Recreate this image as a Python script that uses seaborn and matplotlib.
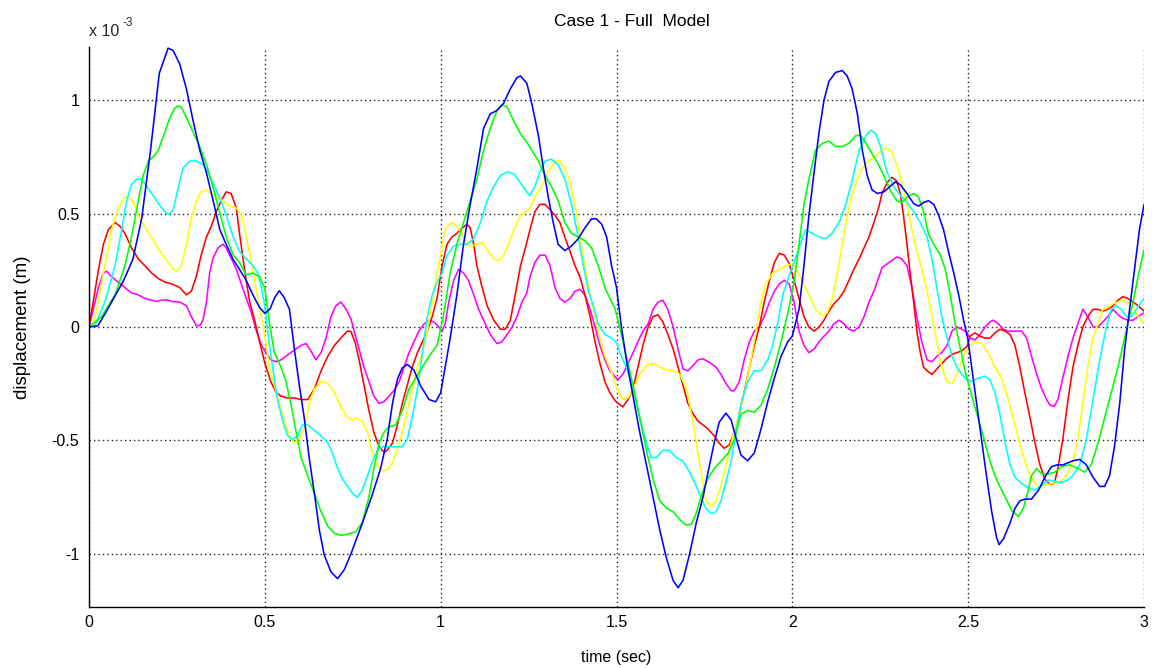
import matplotlib
matplotlib.use("Agg")
import matplotlib.pyplot as plt
from matplotlib.ticker import FixedLocator, FuncFormatter
import numpy as np
import pandas as pd
import seaborn as sns

# Displacement histories of the six degrees of freedom (values in units of 1e-3 m)
SCALE = 1e-3

mass1_t = [0, 0.012, 0.027, 0.041, 0.05, 0.064, 0.083, 0.102, 0.121, 0.14, 0.159, 0.178, 0.192, 0.207, 0.221, 0.235,
           0.258, 0.277, 0.291, 0.305, 0.315, 0.324, 0.334, 0.343, 0.352, 0.367, 0.381, 0.39, 0.4, 0.41, 0.419, 0.433,
           0.447, 0.462, 0.476, 0.49, 0.503, 0.517, 0.532, 0.546, 0.56, 0.574, 0.588, 0.603, 0.617, 0.631, 0.645, 0.66,
           0.674, 0.688, 0.702, 0.716, 0.731, 0.745, 0.754, 0.768, 0.782, 0.796, 0.81, 0.825, 0.839, 0.853, 0.867, 0.882,
           0.896, 0.91, 0.924, 0.938, 0.953, 0.967, 0.981, 0.995, 1.004, 1.013, 1.023, 1.037, 1.051, 1.065, 1.079, 1.094,
           1.108, 1.122, 1.141, 1.16, 1.174, 1.189, 1.203, 1.217, 1.231, 1.245, 1.254, 1.268, 1.282, 1.297, 1.311, 1.325,
           1.339, 1.353, 1.368, 1.382, 1.396, 1.41, 1.425, 1.439, 1.453, 1.467, 1.481, 1.496, 1.504, 1.518, 1.533, 1.547,
           1.561, 1.575, 1.59, 1.604, 1.618, 1.632, 1.646, 1.661, 1.675, 1.689, 1.703, 1.718, 1.732, 1.746, 1.769, 1.783,
           1.797, 1.811, 1.826, 1.835, 1.849, 1.863, 1.878, 1.892, 1.906, 1.92, 1.935, 1.949, 1.963, 1.977, 1.991, 2.005,
           2.019, 2.033, 2.047, 2.062, 2.076, 2.09, 2.104, 2.118, 2.133, 2.147, 2.161, 2.175, 2.19, 2.204, 2.218, 2.232,
           2.246, 2.255, 2.269, 2.283, 2.297, 2.311, 2.326, 2.34, 2.354, 2.368, 2.383, 2.397, 2.411, 2.425, 2.44, 2.454,
           2.468, 2.482, 2.497, 2.505, 2.519, 2.534, 2.548, 2.562, 2.571, 2.586, 2.6, 2.614, 2.633, 2.652, 2.666, 2.68,
           2.695, 2.709, 2.723, 2.733, 2.745, 2.755, 2.769, 2.784, 2.798, 2.812, 2.826, 2.84, 2.855, 2.869, 2.883, 2.897,
           2.912, 2.926, 2.94, 2.954, 2.969, 2.983, 3.0]
mass1_d = [0, 0.078, 0.174, 0.238, 0.246, 0.222, 0.198, 0.174, 0.15, 0.142, 0.126, 0.118, 0.113, 0.118, 0.12, 0.113,
           0.11, 0.094, 0.046, 0.006, 0.006, 0.03, 0.11, 0.238, 0.301, 0.349, 0.365, 0.349, 0.317, 0.285, 0.254, 0.19,
           0.126, 0.062, -0.018, -0.08, -0.113, -0.145, -0.153, -0.145, -0.129, -0.113, -0.097, -0.081, -0.073, -0.105, -0.145, -0.113,
           -0.049, 0.046, 0.094, 0.11, 0.078, 0.035, -0.018, -0.097, -0.177, -0.241, -0.305, -0.337, -0.329, -0.305, -0.281, -0.241,
           -0.177, -0.113, -0.065, -0.018, 0.014, 0.03, 0.022, 0, -0.018, 0.014, 0.11, 0.206, 0.254, 0.238, 0.206, 0.142,
           0.078, 0.03, -0.033, -0.073, -0.065, -0.033, 0, 0.046, 0.11, 0.15, 0.222, 0.285, 0.317, 0.317, 0.27, 0.174,
           0.126, 0.11, 0.126, 0.158, 0.166, 0.142, 0.078, 0, -0.081, -0.145, -0.193, -0.22, -0.233, -0.209, -0.161, -0.113,
           -0.065, -0.018, 0.014, 0.078, 0.11, 0.118, 0.078, 0, -0.097, -0.185, -0.193, -0.169, -0.145, -0.14, -0.161, -0.177,
           -0.209, -0.249, -0.281, -0.281, -0.241, -0.145, -0.065, -0.018, 0, 0.046, 0.11, 0.158, 0.19, 0.206, 0.19, 0.11,
           -0.018, -0.081, -0.113, -0.097, -0.065, -0.041, -0.018, 0.014, 0.03, 0.014, -0.01, -0.018, 0, 0.046, 0.11, 0.158,
           0.22, 0.262, 0.278, 0.293, 0.309, 0.301, 0.27, 0.174, 0.046, -0.065, -0.145, -0.153, -0.129, -0.113, -0.081, -0.018,
           0, -0.01, -0.025, -0.049, -0.057, -0.033, 0, 0.022, 0.03, 0.014, -0.01, -0.018, -0.018, -0.018, -0.049, -0.129,
           -0.209, -0.273, -0.32, -0.345, -0.35, -0.32, -0.225, -0.129, -0.049, 0.014, 0.078, 0.046, 0, 0, 0.022, 0.046,
           0.078, 0.054, 0.038, 0.03, 0.03, 0.046, 0.062]

mass2_t = [0, 0.012, 0.027, 0.041, 0.055, 0.074, 0.088, 0.102, 0.121, 0.14, 0.159, 0.178, 0.197, 0.216, 0.235, 0.25,
           0.258, 0.277, 0.291, 0.305, 0.319, 0.334, 0.348, 0.362, 0.376, 0.39, 0.404, 0.419, 0.428, 0.438, 0.447, 0.457,
           0.471, 0.485, 0.5, 0.517, 0.532, 0.546, 0.565, 0.584, 0.603, 0.622, 0.641, 0.66, 0.679, 0.698, 0.716, 0.735,
           0.745, 0.757, 0.768, 0.782, 0.796, 0.81, 0.825, 0.839, 0.848, 0.863, 0.877, 0.891, 0.905, 0.919, 0.934, 0.948,
           0.962, 0.976, 0.99, 1.004, 1.018, 1.032, 1.046, 1.061, 1.075, 1.084, 1.094, 1.103, 1.118, 1.132, 1.151, 1.17,
           1.184, 1.198, 1.212, 1.227, 1.241, 1.254, 1.268, 1.282, 1.297, 1.311, 1.325, 1.339, 1.353, 1.368, 1.382, 1.396,
           1.41, 1.425, 1.439, 1.453, 1.467, 1.481, 1.496, 1.504, 1.518, 1.533, 1.547, 1.561, 1.575, 1.59, 1.604, 1.618,
           1.632, 1.646, 1.661, 1.675, 1.689, 1.703, 1.718, 1.732, 1.746, 1.759, 1.778, 1.792, 1.806, 1.821, 1.835, 1.849,
           1.863, 1.878, 1.892, 1.906, 1.92, 1.935, 1.949, 1.963, 1.977, 1.991, 2.005, 2.019, 2.033, 2.047, 2.062, 2.076,
           2.09, 2.104, 2.118, 2.133, 2.147, 2.161, 2.175, 2.19, 2.204, 2.218, 2.232, 2.246, 2.255, 2.269, 2.283, 2.297,
           2.307, 2.316, 2.326, 2.335, 2.345, 2.354, 2.364, 2.373, 2.383, 2.397, 2.411, 2.425, 2.44, 2.454, 2.468, 2.482,
           2.497, 2.505, 2.519, 2.534, 2.548, 2.562, 2.576, 2.59, 2.605, 2.619, 2.633, 2.647, 2.661, 2.676, 2.69, 2.704,
           2.718, 2.733, 2.745, 2.755, 2.769, 2.784, 2.798, 2.812, 2.826, 2.84, 2.855, 2.869, 2.883, 2.897, 2.912, 2.926,
           2.94, 2.954, 2.969, 2.983, 3.0]
mass2_d = [0, 0.11, 0.254, 0.365, 0.429, 0.461, 0.445, 0.413, 0.349, 0.301, 0.27, 0.238, 0.214, 0.198, 0.19, 0.18,
           0.174, 0.142, 0.158, 0.222, 0.317, 0.397, 0.445, 0.509, 0.557, 0.596, 0.589, 0.525, 0.413, 0.301, 0.206, 0.11,
           0.03, -0.065, -0.16, -0.241, -0.289, -0.305, -0.313, -0.313, -0.32, -0.32, -0.273, -0.193, -0.129, -0.081, -0.049, -0.018,
           -0.02, -0.07, -0.145, -0.257, -0.368, -0.464, -0.528, -0.552, -0.544, -0.512, -0.432, -0.337, -0.257, -0.177, -0.113, -0.065,
           -0.018, 0.046, 0.13, 0.27, 0.365, 0.397, 0.413, 0.437, 0.453, 0.437, 0.365, 0.27, 0.174, 0.094, 0.03, -0.01,
           -0.01, 0.03, 0.142, 0.27, 0.35, 0.429, 0.509, 0.541, 0.541, 0.517, 0.493, 0.461, 0.397, 0.333, 0.27, 0.222,
           0.142, 0.046, -0.065, -0.161, -0.241, -0.289, -0.325, -0.337, -0.352, -0.32, -0.273, -0.177, -0.081, 0, 0.046, 0.054,
           0.022, -0.033, -0.097, -0.177, -0.257, -0.337, -0.384, -0.416, -0.432, -0.448, -0.48, -0.512, -0.535, -0.52, -0.464, -0.384,
           -0.289, -0.177, -0.081, 0, 0.11, 0.206, 0.285, 0.325, 0.317, 0.28, 0.206, 0.126, 0.046, 0, -0.018, 0,
           0.03, 0.07, 0.102, 0.126, 0.158, 0.206, 0.254, 0.301, 0.349, 0.397, 0.461, 0.53, 0.589, 0.636, 0.66, 0.644,
           0.589, 0.493, 0.365, 0.238, 0.11, -0.018, -0.113, -0.177, -0.193, -0.209, -0.185, -0.161, -0.137, -0.121, -0.113, -0.105,
           -0.085, -0.041, -0.026, -0.041, -0.049, -0.049, -0.026, -0.01, -0.018, -0.033, -0.081, -0.177, -0.289, -0.4, -0.512, -0.608,
           -0.671, -0.695, -0.69, -0.624, -0.496, -0.32, -0.177, -0.081, 0, 0.046, 0.078, 0.078, 0.07, 0.078, 0.094, 0.118,
           0.134, 0.126, 0.11, 0.094, 0.07]

mass3_t = [0, 0.012, 0.026, 0.045, 0.064, 0.083, 0.102, 0.112, 0.126, 0.145, 0.164, 0.183, 0.202, 0.221, 0.24, 0.25,
           0.262, 0.277, 0.291, 0.305, 0.319, 0.334, 0.348, 0.362, 0.381, 0.4, 0.419, 0.433, 0.447, 0.462, 0.476, 0.49,
           0.5, 0.513, 0.527, 0.541, 0.555, 0.57, 0.584, 0.598, 0.612, 0.626, 0.641, 0.66, 0.679, 0.698, 0.716, 0.735,
           0.75, 0.758, 0.777, 0.792, 0.806, 0.82, 0.834, 0.848, 0.863, 0.877, 0.891, 0.905, 0.919, 0.934, 0.948, 0.962,
           0.976, 0.99, 1.0, 1.01, 1.018, 1.032, 1.046, 1.061, 1.075, 1.089, 1.103, 1.118, 1.132, 1.151, 1.165, 1.179,
           1.193, 1.208, 1.227, 1.245, 1.254, 1.268, 1.287, 1.306, 1.325, 1.339, 1.353, 1.368, 1.382, 1.396, 1.41, 1.425,
           1.439, 1.453, 1.467, 1.486, 1.504, 1.518, 1.533, 1.547, 1.566, 1.585, 1.604, 1.623, 1.642, 1.661, 1.68, 1.699,
           1.717, 1.732, 1.746, 1.754, 1.769, 1.783, 1.797, 1.811, 1.826, 1.84, 1.854, 1.868, 1.882, 1.897, 1.911, 1.925,
           1.944, 1.963, 1.982, 2.0, 2.009, 2.028, 2.047, 2.066, 2.085, 2.099, 2.114, 2.128, 2.142, 2.156, 2.171, 2.185,
           2.199, 2.218, 2.237, 2.255, 2.269, 2.283, 2.297, 2.311, 2.326, 2.34, 2.354, 2.369, 2.383, 2.397, 2.411, 2.425,
           2.44, 2.454, 2.468, 2.482, 2.497, 2.505, 2.519, 2.538, 2.557, 2.576, 2.595, 2.614, 2.633, 2.652, 2.671, 2.69,
           2.704, 2.723, 2.742, 2.76, 2.779, 2.798, 2.812, 2.826, 2.84, 2.855, 2.869, 2.883, 2.897, 2.912, 2.926, 2.94,
           2.954, 2.969, 2.983, 3.0]
mass3_d = [0, 0.01, 0.11, 0.27, 0.429, 0.525, 0.573, 0.575, 0.549, 0.477, 0.429, 0.381, 0.333, 0.293, 0.254, 0.245,
           0.27, 0.365, 0.477, 0.557, 0.596, 0.604, 0.589, 0.573, 0.557, 0.533, 0.525, 0.493, 0.397, 0.285, 0.158, 0.046,
           -0.04, -0.177, -0.257, -0.337, -0.416, -0.488, -0.512, -0.496, -0.448, -0.337, -0.273, -0.241, -0.249, -0.289, -0.352, -0.4,
           -0.41, -0.4, -0.416, -0.464, -0.56, -0.61, -0.635, -0.63, -0.6, -0.54, -0.464, -0.368, -0.273, -0.177, -0.113, -0.018,
           0.11, 0.24, 0.32, 0.41, 0.445, 0.461, 0.445, 0.413, 0.365, 0.357, 0.365, 0.373, 0.341, 0.301, 0.293, 0.317,
           0.365, 0.429, 0.493, 0.51, 0.525, 0.573, 0.62, 0.684, 0.732, 0.732, 0.7, 0.636, 0.541, 0.397, 0.27, 0.142,
           0.046, -0.049, -0.129, -0.2, -0.28, -0.32, -0.313, -0.273, -0.209, -0.17, -0.16, -0.177, -0.19, -0.19, -0.209, -0.273,
           -0.416, -0.56, -0.69, -0.767, -0.791, -0.767, -0.703, -0.608, -0.512, -0.432, -0.352, -0.257, -0.145, -0.018, 0.11, 0.19,
           0.238, 0.254, 0.27, 0.28, 0.26, 0.206, 0.142, 0.078, 0.05, 0.062, 0.126, 0.238, 0.365, 0.493, 0.589, 0.652,
           0.7, 0.732, 0.756, 0.78, 0.788, 0.772, 0.716, 0.636, 0.541, 0.429, 0.333, 0.254, 0.158, 0.046, -0.065, -0.177,
           -0.241, -0.249, -0.209, -0.145, -0.1, -0.081, -0.065, -0.073, -0.113, -0.177, -0.225, -0.32, -0.432, -0.544, -0.64, -0.687,
           -0.711, -0.695, -0.69, -0.687, -0.656, -0.592, -0.496, -0.337, -0.177, -0.049, 0.014, 0.078, 0.086, 0.102, 0.11, 0.118,
           0.11, 0.086, 0.046, 0.014]

mass4_t = [0, 0.017, 0.045, 0.074, 0.093, 0.107, 0.121, 0.135, 0.15, 0.164, 0.178, 0.192, 0.207, 0.221, 0.23, 0.24,
           0.253, 0.267, 0.286, 0.305, 0.324, 0.338, 0.352, 0.371, 0.39, 0.41, 0.428, 0.447, 0.466, 0.48, 0.49, 0.498,
           0.508, 0.522, 0.536, 0.551, 0.565, 0.579, 0.593, 0.607, 0.622, 0.641, 0.66, 0.679, 0.693, 0.707, 0.721, 0.735,
           0.75, 0.763, 0.777, 0.792, 0.806, 0.82, 0.834, 0.853, 0.872, 0.891, 0.905, 0.919, 0.934, 0.948, 0.962, 0.976,
           0.99, 1.004, 1.018, 1.037, 1.056, 1.075, 1.094, 1.113, 1.132, 1.151, 1.17, 1.189, 1.208, 1.227, 1.245, 1.254,
           1.268, 1.282, 1.297, 1.315, 1.334, 1.353, 1.372, 1.391, 1.406, 1.42, 1.434, 1.448, 1.467, 1.486, 1.501, 1.509,
           1.528, 1.547, 1.566, 1.585, 1.599, 1.613, 1.632, 1.651, 1.67, 1.689, 1.708, 1.727, 1.741, 1.754, 1.769, 1.783,
           1.797, 1.811, 1.826, 1.84, 1.854, 1.873, 1.892, 1.911, 1.93, 1.944, 1.958, 1.973, 1.99, 2.005, 2.019, 2.038,
           2.057, 2.076, 2.095, 2.113, 2.133, 2.152, 2.171, 2.19, 2.209, 2.223, 2.237, 2.25, 2.269, 2.288, 2.307, 2.326,
           2.345, 2.364, 2.383, 2.397, 2.411, 2.425, 2.44, 2.454, 2.468, 2.482, 2.497, 2.51, 2.529, 2.548, 2.562, 2.576,
           2.59, 2.605, 2.619, 2.633, 2.652, 2.671, 2.69, 2.709, 2.728, 2.747, 2.76, 2.779, 2.798, 2.817, 2.836, 2.855,
           2.874, 2.893, 2.907, 2.921, 2.935, 2.95, 2.964, 2.978, 2.992, 3.0]
mass4_d = [0, 0.006, 0.11, 0.27, 0.429, 0.557, 0.628, 0.652, 0.652, 0.62, 0.589, 0.557, 0.525, 0.5, 0.5, 0.52,
           0.61, 0.7, 0.732, 0.732, 0.716, 0.684, 0.636, 0.573, 0.493, 0.397, 0.333, 0.301, 0.27, 0.238, 0.174, 0.11,
           -0.018, -0.177, -0.32, -0.416, -0.48, -0.496, -0.48, -0.432, -0.432, -0.456, -0.48, -0.512, -0.56, -0.624, -0.671, -0.703,
           -0.735, -0.751, -0.719, -0.656, -0.592, -0.544, -0.528, -0.528, -0.528, -0.528, -0.496, -0.4, -0.273, -0.113, 0.046, 0.142,
           0.2, 0.238, 0.317, 0.357, 0.365, 0.365, 0.389, 0.461, 0.557, 0.62, 0.668, 0.684, 0.676, 0.636, 0.595, 0.58,
           0.62, 0.684, 0.732, 0.74, 0.716, 0.652, 0.541, 0.397, 0.27, 0.158, 0.094, 0.014, -0.033, -0.049, -0.07, -0.113,
           -0.177, -0.273, -0.4, -0.512, -0.576, -0.576, -0.544, -0.544, -0.576, -0.592, -0.64, -0.703, -0.755, -0.799, -0.823, -0.815,
           -0.767, -0.687, -0.592, -0.464, -0.337, -0.241, -0.193, -0.193, -0.145, -0.081, 0.014, 0.142, 0.222, 0.285, 0.349, 0.429,
           0.413, 0.397, 0.389, 0.413, 0.461, 0.541, 0.652, 0.78, 0.844, 0.868, 0.852, 0.8, 0.684, 0.62, 0.58, 0.549,
           0.509, 0.461, 0.397, 0.301, 0.174, 0.046, -0.049, -0.129, -0.177, -0.209, -0.233, -0.241, -0.225, -0.217, -0.233, -0.289,
           -0.384, -0.512, -0.608, -0.663, -0.69, -0.71, -0.72, -0.7, -0.675, -0.68, -0.687, -0.679, -0.656, -0.608, -0.496, -0.32,
           -0.145, 0, 0.078, 0.094, 0.078, 0.046, 0.046, 0.078, 0.11, 0.126]

mass5_t = [0, 0.036, 0.074, 0.102, 0.121, 0.14, 0.154, 0.169, 0.183, 0.197, 0.216, 0.23, 0.244, 0.252, 0.262, 0.277,
           0.296, 0.315, 0.334, 0.352, 0.371, 0.39, 0.41, 0.428, 0.447, 0.466, 0.485, 0.5, 0.513, 0.527, 0.546, 0.56,
           0.574, 0.589, 0.603, 0.622, 0.641, 0.66, 0.679, 0.698, 0.716, 0.735, 0.758, 0.777, 0.796, 0.81, 0.825, 0.839,
           0.853, 0.872, 0.891, 0.91, 0.929, 0.948, 0.967, 0.99, 1.008, 1.027, 1.046, 1.065, 1.084, 1.103, 1.122, 1.141,
           1.16, 1.174, 1.189, 1.208, 1.227, 1.245, 1.259, 1.278, 1.297, 1.315, 1.334, 1.353, 1.372, 1.391, 1.41, 1.429,
           1.448, 1.467, 1.486, 1.495, 1.509, 1.528, 1.547, 1.566, 1.585, 1.604, 1.623, 1.642, 1.661, 1.68, 1.699, 1.713,
           1.727, 1.741, 1.759, 1.778, 1.797, 1.816, 1.835, 1.854, 1.873, 1.892, 1.911, 1.93, 1.949, 1.968, 1.987, 2.005,
           2.019, 2.033, 2.047, 2.066, 2.085, 2.104, 2.123, 2.142, 2.161, 2.18, 2.194, 2.209, 2.227, 2.242, 2.26, 2.278,
           2.297, 2.311, 2.326, 2.345, 2.359, 2.373, 2.387, 2.402, 2.421, 2.435, 2.449, 2.463, 2.478, 2.492, 2.505, 2.519,
           2.534, 2.548, 2.562, 2.576, 2.59, 2.605, 2.624, 2.643, 2.657, 2.671, 2.68, 2.695, 2.709, 2.728, 2.747, 2.765,
           2.788, 2.812, 2.831, 2.85, 2.869, 2.888, 2.907, 2.926, 2.94, 2.954, 2.969, 2.983, 3.0]
mass5_d = [0, 0.046, 0.142, 0.27, 0.397, 0.557, 0.668, 0.732, 0.751, 0.78, 0.86, 0.923, 0.965, 0.975, 0.971, 0.923,
           0.86, 0.796, 0.716, 0.62, 0.509, 0.397, 0.317, 0.285, 0.23, 0.238, 0.222, 0.17, 0.02, -0.113, -0.177, -0.24,
           -0.337, -0.464, -0.576, -0.656, -0.735, -0.815, -0.879, -0.91, -0.919, -0.914, -0.903, -0.863, -0.751, -0.624, -0.512, -0.464,
           -0.44, -0.432, -0.368, -0.273, -0.225, -0.177, -0.129, -0.08, 0.05, 0.238, 0.365, 0.461, 0.557, 0.652, 0.78, 0.876,
           0.955, 0.979, 0.971, 0.907, 0.852, 0.815, 0.78, 0.732, 0.668, 0.62, 0.557, 0.461, 0.413, 0.397, 0.381, 0.349,
           0.27, 0.174, 0.11, 0.085, 0, -0.129, -0.257, -0.4, -0.544, -0.671, -0.767, -0.799, -0.815, -0.85, -0.875, -0.87,
           -0.82, -0.745, -0.671, -0.624, -0.592, -0.56, -0.496, -0.384, -0.368, -0.376, -0.344, -0.273, -0.177, -0.065, 0.06, 0.2,
           0.365, 0.54, 0.652, 0.78, 0.81, 0.82, 0.796, 0.796, 0.81, 0.844, 0.845, 0.81, 0.764, 0.725, 0.668, 0.604,
           0.557, 0.549, 0.573, 0.589, 0.573, 0.509, 0.413, 0.365, 0.317, 0.254, 0.142, 0.014, -0.097, -0.2, -0.273, -0.352,
           -0.432, -0.512, -0.592, -0.656, -0.703, -0.75, -0.81, -0.835, -0.8, -0.72, -0.656, -0.624, -0.648, -0.648, -0.64, -0.616,
           -0.608, -0.624, -0.64, -0.608, -0.512, -0.4, -0.289, -0.177, -0.081, 0.014, 0.11, 0.222, 0.34]

mass6_t = [0, 0.025, 0.05, 0.075, 0.1, 0.125, 0.15, 0.175, 0.2, 0.225, 0.239, 0.258, 0.277, 0.296, 0.315, 0.334,
           0.353, 0.372, 0.39, 0.409, 0.428, 0.447, 0.466, 0.485, 0.5, 0.515, 0.528, 0.541, 0.555, 0.57, 0.584, 0.598,
           0.612, 0.626, 0.641, 0.655, 0.669, 0.688, 0.707, 0.726, 0.745, 0.758, 0.777, 0.806, 0.829, 0.848, 0.863, 0.877,
           0.891, 0.905, 0.924, 0.943, 0.967, 0.986, 1.0, 1.008, 1.027, 1.046, 1.065, 1.084, 1.103, 1.122, 1.141, 1.16,
           1.179, 1.198, 1.217, 1.227, 1.245, 1.259, 1.278, 1.292, 1.306, 1.32, 1.334, 1.353, 1.372, 1.391, 1.41, 1.429,
           1.443, 1.458, 1.472, 1.486, 1.5, 1.514, 1.528, 1.547, 1.566, 1.585, 1.604, 1.623, 1.642, 1.661, 1.675, 1.689,
           1.708, 1.727, 1.746, 1.759, 1.778, 1.792, 1.811, 1.826, 1.84, 1.854, 1.873, 1.892, 1.911, 1.93, 1.949, 1.968,
           1.987, 2.0, 2.019, 2.033, 2.047, 2.062, 2.076, 2.09, 2.104, 2.123, 2.142, 2.156, 2.17, 2.185, 2.199, 2.213,
           2.227, 2.242, 2.26, 2.278, 2.293, 2.307, 2.326, 2.345, 2.359, 2.373, 2.387, 2.402, 2.416, 2.43, 2.444, 2.459,
           2.473, 2.487, 2.5, 2.51, 2.524, 2.538, 2.552, 2.567, 2.581, 2.588, 2.6, 2.619, 2.633, 2.647, 2.661, 2.68,
           2.7, 2.718, 2.737, 2.753, 2.77, 2.798, 2.817, 2.836, 2.855, 2.874, 2.888, 2.902, 2.916, 2.931, 2.945, 2.959,
           2.973, 2.987, 3.0]
mass6_d = [0, 0.005, 0.07, 0.14, 0.21, 0.3, 0.48, 0.78, 1.12, 1.23, 1.22, 1.16, 1.05, 0.91, 0.78, 0.68,
           0.557, 0.43, 0.365, 0.3, 0.254, 0.206, 0.142, 0.086, 0.06, 0.08, 0.13, 0.16, 0.13, 0.078, -0.097, -0.257,
           -0.4, -0.576, -0.735, -0.895, -1.006, -1.08, -1.11, -1.07, -1.0, -0.945, -0.866, -0.738, -0.625, -0.495, -0.337, -0.23,
           -0.18, -0.165, -0.19, -0.26, -0.32, -0.33, -0.29, -0.22, -0.05, 0.14, 0.365, 0.54, 0.7, 0.876, 0.94, 0.955,
           0.987, 1.05, 1.1, 1.107, 1.075, 0.987, 0.844, 0.7, 0.573, 0.461, 0.365, 0.337, 0.357, 0.389, 0.437, 0.477,
           0.477, 0.453, 0.397, 0.27, 0.174, 0, -0.145, -0.305, -0.464, -0.608, -0.751, -0.895, -1.02, -1.118, -1.15, -1.118,
           -1.0, -0.863, -0.75, -0.65, -0.51, -0.42, -0.38, -0.41, -0.49, -0.565, -0.59, -0.555, -0.45, -0.33, -0.225, -0.129,
           -0.065, -0.04, 0.078, 0.27, 0.49, 0.684, 0.86, 1.0, 1.083, 1.123, 1.131, 1.107, 1.051, 0.94, 0.78, 0.668,
           0.604, 0.589, 0.596, 0.62, 0.64, 0.628, 0.589, 0.544, 0.533, 0.549, 0.557, 0.541, 0.493, 0.429, 0.333, 0.238,
           0.142, 0.03, -0.06, -0.177, -0.337, -0.496, -0.656, -0.815, -0.93, -0.96, -0.935, -0.865, -0.8, -0.767, -0.759, -0.759,
           -0.72, -0.663, -0.616, -0.608, -0.608, -0.59, -0.584, -0.608, -0.663, -0.703, -0.703, -0.656, -0.528, -0.337, -0.097, 0.078,
           0.254, 0.429, 0.54]

series_names = ["mass 1", "mass 2", "mass 3", "mass 4", "mass 5", "mass 6"]
series_colors = ["#ff00ff", "#ff0000", "#ffff00", "#00ffff", "#00ff00", "#0000ff"]
series_t = [mass1_t, mass2_t, mass3_t, mass4_t, mass5_t, mass6_t]
series_d = [mass1_d, mass2_d, mass3_d, mass4_d, mass5_d, mass6_d]

x_ticks = [0, 0.5, 1, 1.5, 2, 2.5, 3]
y_ticks = [-1, -0.5, 0, 0.5, 1]

frames = []
for name, t, d in zip(series_names, series_t, series_d):
    frames.append(pd.DataFrame({"time": t, "disp": np.asarray(d) * SCALE, "dof": name}))
df = pd.concat(frames, ignore_index=True)

sns.set_theme(style="white")
plt.rcParams["font.family"] = ["Liberation Sans", "DejaVu Sans"]
plt.rcParams["font.size"] = 11.5

fig = plt.figure(figsize=(11.54, 6.68), dpi=100)
ax = fig.add_axes([89 / 1154, 1 - 607 / 668, (1144 - 89) / 1154, (607 - 47) / 668])

sns.lineplot(data=df, x="time", y="disp", hue="dof", hue_order=series_names,
             palette=dict(zip(series_names, series_colors)), estimator=None,
             sort=False, legend=False, linewidth=1.15, ax=ax)

ax.set_xlim(0, 3)
ax.set_ylim(-1.235 * SCALE, 1.235 * SCALE)
ax.xaxis.set_major_locator(FixedLocator(x_ticks))
ax.yaxis.set_major_locator(FixedLocator([v * SCALE for v in y_ticks]))
ax.xaxis.set_major_formatter(FuncFormatter(lambda v, _: f"{v:g}"))
ax.yaxis.set_major_formatter(FuncFormatter(lambda v, _: f"{v / SCALE:g}"))

ax.grid(True, linestyle=(0, (1, 2.2)), color="#222222", linewidth=1.0)
ax.set_axisbelow(True)
for side in ("top", "right"):
    ax.spines[side].set_visible(False)
for side in ("left", "bottom"):
    ax.spines[side].set_color("black")
    ax.spines[side].set_linewidth(1.0)
ax.tick_params(axis="both", which="major", direction="in", length=7, width=1.0,
               color="black", labelcolor="black", labelsize=11.5)
ax.tick_params(axis="x", pad=6)
ax.tick_params(axis="y", pad=7)

ax.set_title("Case 1 - Full  Model", fontsize=12.5, pad=15, color="black", x=0.515)
ax.set_xlabel("time (sec)", fontsize=11.5, labelpad=14, color="black")
ax.set_ylabel("displacement (m)", fontsize=13.5, labelpad=15, color="black")

ax.annotate("x 10", xy=(0, 1), xycoords="axes fraction", xytext=(0, 8),
            textcoords="offset points", ha="left", va="baseline", fontsize=11.5)
ax.annotate("-3", xy=(0, 1), xycoords="axes fraction", xytext=(24, 15),
            textcoords="offset points", ha="left", va="baseline", fontsize=8.5)

fig.savefig("out.png", dpi=100)
